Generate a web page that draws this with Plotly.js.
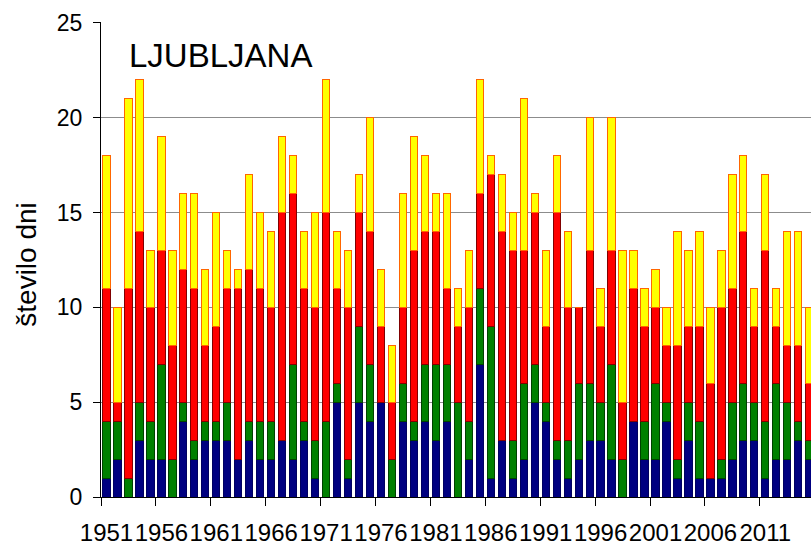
<!DOCTYPE html>
<html>
<head>
<meta charset="utf-8">
<script src="https://cdn.plot.ly/plotly-3.0.1.min.js"></script>
<style>html,body{margin:0;padding:0;background:#fff;}#chart{width:811px;height:545px;}</style>
</head>
<body>
<div id="chart"></div>
<script>
const years = [1951,1952,1953,1954,1955,1956,1957,1958,1959,1960,1961,1962,1963,1964,1965,1966,1967,1968,1969,1970,
1971,1972,1973,1974,1975,1976,1977,1978,1979,1980,1981,1982,1983,1984,1985,1986,1987,1988,1989,1990,
1991,1992,1993,1994,1995,1996,1997,1998,1999,2000,2001,2002,2003,2004,2005,2006,2007,2008,2009,2010,
2011,2012,2013,2014,2015];
const blueVals = [1,2,0,3,2,2,0,4,2,3,3,3,2,3,2,2,3,2,3,1,
0,5,1,5,4,5,0,4,3,4,3,4,0,2,7,1,3,1,2,5,
4,2,1,2,3,3,2,0,4,2,2,4,1,3,1,1,1,2,3,3,
1,2,2,3,2];
const greenVals = [3,2,1,2,2,5,2,1,1,1,1,2,0,1,2,2,0,5,1,2,
4,1,1,4,3,0,2,2,1,3,4,3,5,2,4,8,0,2,4,2,
1,1,2,4,3,2,5,2,0,2,4,1,1,2,3,0,1,3,3,2,
3,4,3,1,1];
const redVals = [7,1,10,9,6,6,6,7,8,4,5,6,9,8,7,6,12,9,7,7,
11,5,8,6,7,4,3,4,9,7,7,4,4,6,5,8,11,10,7,8,
4,12,7,4,7,4,6,3,7,5,4,3,6,4,5,5,8,6,8,4,
9,3,3,4,3];
const yellowVals = [7,5,10,8,3,6,5,4,5,4,6,2,1,5,4,4,4,2,3,5,
7,3,3,2,6,3,3,6,6,4,2,5,2,3,6,1,3,2,8,1,
4,3,4,0,7,2,7,8,2,2,2,2,6,4,5,4,3,6,4,2,
4,2,6,6,4];
const yTicks = [0,5,10,15,20,25];
const xLabels = years.map(String);

const FONT = 'Liberation Sans, Arial, sans-serif';
function seg(vals, fill, edge) {
  return {
    type: 'bar', x: xLabels, y: vals,
    marker: {color: fill, line: {color: edge, width: 1}},
    hoverinfo: 'skip', showlegend: false
  };
}
const data = [
  seg(blueVals, '#000080', '#000060'),
  seg(greenVals, '#008000', '#004000'),
  seg(redVals, '#FF0000', '#800000'),
  seg(yellowVals, '#FFFF00', '#FF6600')
];
const layout = {
  width: 811, height: 545,
  margin: {l: 101, r: 0, t: 22, b: 48, pad: 0},
  paper_bgcolor: '#fff', plot_bgcolor: '#fff',
  barmode: 'stack', bargap: 0.34,
  font: {family: FONT, color: '#000', size: 23},
  showlegend: false,
  xaxis: {
    type: 'category', range: [-0.5, 64.16],
    tickmode: 'linear', tick0: 0, dtick: 5, tickson: 'boundaries',
    ticks: 'outside', ticklen: 8, tickcolor: '#000', tickwidth: 1,
    showgrid: false, showline: true, linecolor: '#000', linewidth: 1,
    tickfont: {family: FONT, size: 24, color: '#000'},
    tickangle: 0, ticklabelstandoff: 14, zeroline: false, fixedrange: true
  },
  yaxis: {
    range: [0, 25.05], tickvals: yTicks, ticktext: yTicks.map(String),
    ticks: 'outside', ticklen: 7, tickcolor: '#000', tickwidth: 1,
    showgrid: true, gridcolor: '#8c8c8c', gridwidth: 1,
    showline: true, linecolor: '#000', linewidth: 1,
    tickfont: {family: FONT, size: 23, color: '#000'},
    ticklabelstandoff: 6, zeroline: false, fixedrange: true
  },
  annotations: [
    {text: 'LJUBLJANA', xref: 'paper', yref: 'paper', x: 0.036, y: 0.93,
     xanchor: 'left', yanchor: 'middle', showarrow: false,
     font: {family: FONT, size: 33, color: '#000'}},
    {text: 'število dni', xref: 'paper', yref: 'paper', x: -0.105, y: 0.49,
     xanchor: 'center', yanchor: 'middle', textangle: -90, showarrow: false,
     font: {family: FONT, size: 28, color: '#000'}}
  ]
};
Plotly.newPlot('chart', data, layout, {staticPlot: true, displayModeBar: false});
</script>
</body>
</html>
